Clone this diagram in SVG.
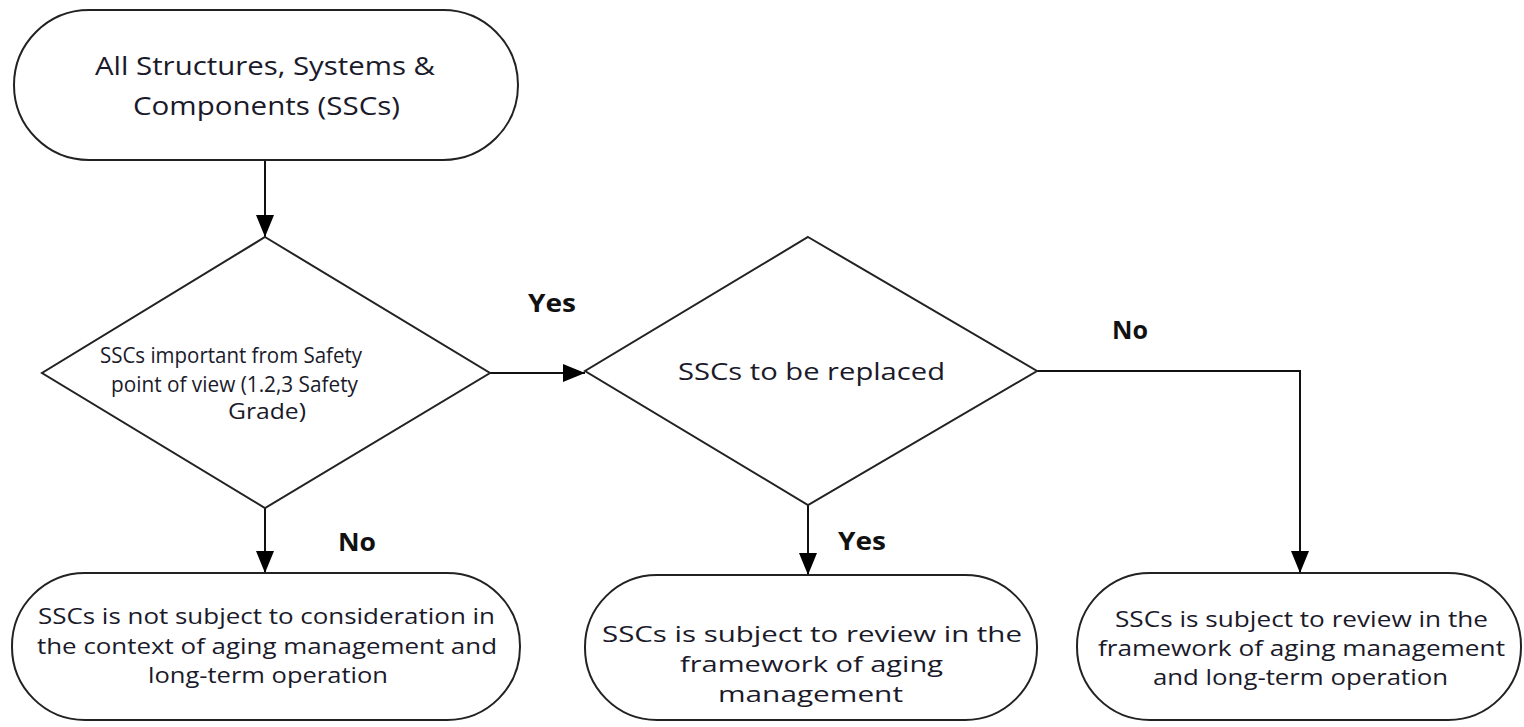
<svg xmlns="http://www.w3.org/2000/svg" width="1524" height="727" viewBox="0 0 1524 727">
<style>
.shape{fill:#fff;stroke:#222;stroke-width:2}
.t{font-family:"Open Sans","Liberation Sans",sans-serif;font-size:21px;fill:#1a1a2a;text-anchor:start}
.big{font-size:26px}
.mid{font-size:23px}
.lbl{font-family:"Open Sans","Liberation Sans",sans-serif;font-size:25px;font-weight:bold;fill:#111;text-anchor:start}
.c{fill:none;stroke:#111;stroke-width:2}
</style>
<defs>
<marker id="ah" viewBox="0 0 22 18" refX="22" refY="9" markerWidth="22" markerHeight="18" markerUnits="userSpaceOnUse" orient="auto">
<path d="M0,0 L22,9 L0,18 Z" fill="#000"/>
</marker>
</defs>
<g id="connectors">
<line class="c" x1="265" y1="160" x2="265" y2="237" marker-end="url(#ah)"/>
<line class="c" x1="490" y1="373" x2="585" y2="373" marker-end="url(#ah)"/>
<line class="c" x1="265" y1="508" x2="265" y2="573" marker-end="url(#ah)"/>
<line class="c" x1="808" y1="505" x2="808" y2="575" marker-end="url(#ah)"/>
<polyline class="c" points="1037,371 1300,371 1300,573" marker-end="url(#ah)"/>
<text class="lbl" x="528" y="312" textLength="48" lengthAdjust="spacingAndGlyphs">Yes</text>
<text class="lbl" x="1112" y="339" textLength="36" lengthAdjust="spacingAndGlyphs">No</text>
<text class="lbl" x="338" y="551" textLength="38" lengthAdjust="spacingAndGlyphs">No</text>
<text class="lbl" x="838" y="550" textLength="48" lengthAdjust="spacingAndGlyphs">Yes</text>
</g>
<g id="start">
<rect class="shape" x="14" y="10" width="504" height="150" rx="75" ry="75"/>
<text class="t big" x="95" y="75" textLength="340" lengthAdjust="spacingAndGlyphs">All Structures, Systems &amp;</text>
<text class="t big" x="133" y="115" textLength="267" lengthAdjust="spacingAndGlyphs">Components (SSCs)</text>
</g>
<g id="decision1">
<polygon class="shape" points="265,237 490,373 265,508 42,373"/>
<text class="t" x="100" y="363" textLength="262" lengthAdjust="spacingAndGlyphs">SSCs important from Safety</text>
<text class="t" x="111" y="392" textLength="247" lengthAdjust="spacingAndGlyphs">point of view (1.2,3 Safety</text>
<text class="t" x="228" y="419" textLength="78" lengthAdjust="spacingAndGlyphs">Grade)</text>
</g>
<g id="decision2">
<polygon class="shape" points="808,237 1037,371 808,505 585,371"/>
<text class="t mid" x="678" y="380" textLength="267" lengthAdjust="spacingAndGlyphs">SSCs to be replaced</text>
</g>
<g id="endA">
<rect class="shape" x="12" y="573" width="508" height="147" rx="73" ry="73"/>
<text class="t" x="38" y="624" textLength="457" lengthAdjust="spacingAndGlyphs">SSCs is not subject to consideration in</text>
<text class="t" x="37" y="654" textLength="460" lengthAdjust="spacingAndGlyphs">the context of aging management and</text>
<text class="t" x="148" y="683" textLength="240" lengthAdjust="spacingAndGlyphs">long-term operation</text>
</g>
<g id="endB">
<rect class="shape" x="585" y="575" width="452" height="145" rx="72" ry="72"/>
<text class="t" x="602" y="642" textLength="420" lengthAdjust="spacingAndGlyphs">SSCs is subject to review in the</text>
<text class="t" x="680" y="672" textLength="263" lengthAdjust="spacingAndGlyphs">framework of aging</text>
<text class="t" x="718" y="702" textLength="185" lengthAdjust="spacingAndGlyphs">management</text>
</g>
<g id="endC">
<rect class="shape" x="1077" y="573" width="444" height="147" rx="73" ry="73"/>
<text class="t" x="1115" y="627" textLength="373" lengthAdjust="spacingAndGlyphs">SSCs is subject to review in the</text>
<text class="t" x="1098" y="656" textLength="407" lengthAdjust="spacingAndGlyphs">framework of aging management</text>
<text class="t" x="1153" y="685" textLength="295" lengthAdjust="spacingAndGlyphs">and long-term operation</text>
</g>
</svg>
